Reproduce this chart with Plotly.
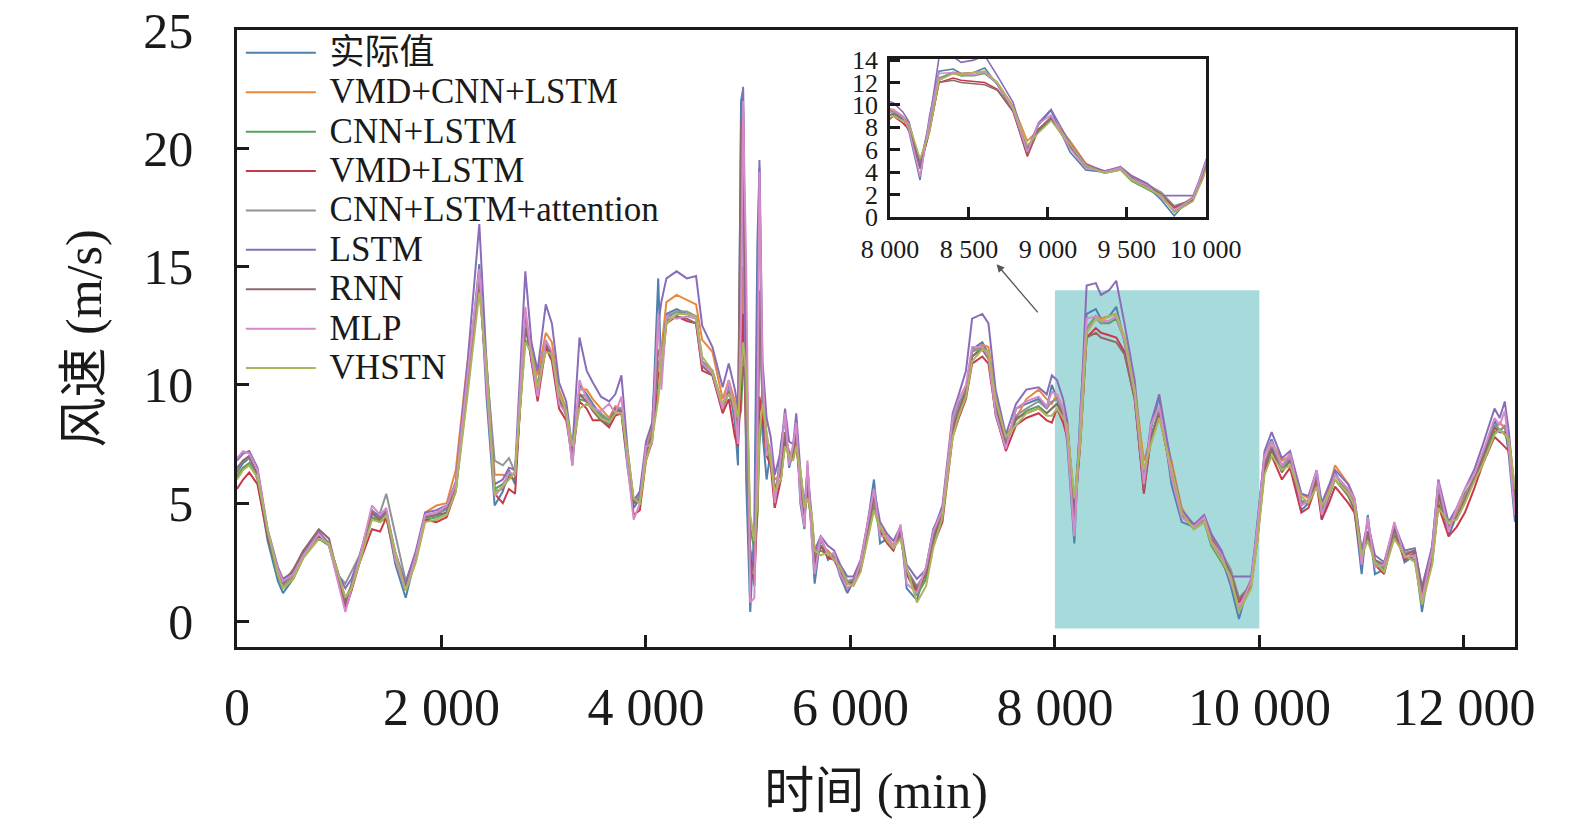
import plotly.graph_objects as go

# time axis (min) and wind speed (m/s)
minutes = [
    0, 60, 120, 200, 300, 400, 450, 550, 650, 800,
    900, 1000, 1060, 1120, 1200, 1320, 1400, 1460, 1550, 1650,
    1750, 1840, 1950, 2050, 2140, 2250, 2370, 2440, 2520, 2600,
    2660, 2720, 2820, 2880, 2940, 3020, 3080, 3150, 3220, 3280,
    3350, 3420, 3480, 3560, 3640, 3700, 3760, 3820, 3880, 3940,
    4000, 4060, 4120, 4150, 4200, 4300, 4400, 4490, 4550, 4650,
    4750, 4810, 4870, 4900, 4930, 4950, 4980, 5020, 5060, 5090,
    5110, 5140, 5180, 5220, 5260, 5320, 5360, 5400, 5440, 5470,
    5510, 5550, 5580, 5620, 5650, 5710, 5780, 5840, 5900, 5970,
    6030, 6100, 6160, 6230, 6290, 6360, 6420, 6490, 6550, 6650,
    6740, 6810, 6900, 7000, 7060, 7130, 7190, 7290, 7350, 7420,
    7520, 7620, 7720, 7840, 7920, 7970, 8020, 8080, 8120, 8190,
    8250, 8310, 8400, 8450, 8530, 8600, 8680, 8780, 8870, 8940,
    9020, 9140, 9240, 9360, 9460, 9530, 9630, 9720, 9800, 9870,
    9920, 9980, 10050, 10120, 10220, 10300, 10410, 10480, 10560, 10610,
    10680, 10740, 10870, 10930, 11000, 11060, 11130, 11220, 11320, 11420,
    11520, 11590, 11690, 11750, 11850, 11930, 12010, 12100, 12180, 12300,
    12350, 12400, 12440, 12500,
]

actual = [
    6.3, 6.7, 6.9, 6.0, 3.4, 1.7, 1.2, 1.8, 2.8, 3.7,
    3.2, 1.5, 0.6, 1.6, 2.7, 4.6, 4.2, 4.5, 2.4, 1.0,
    2.8, 4.4, 4.5, 4.8, 5.8, 10.0, 15.1, 9.5, 4.9, 5.5,
    6.4, 5.8, 12.8, 11.0, 9.8, 11.8, 11.2, 9.4, 8.9, 6.6,
    10.0, 9.6, 9.2, 8.7, 8.3, 9.0, 8.8, 6.5, 4.8, 5.2,
    7.2, 8.0, 14.5, 10.4, 13.0, 13.2, 13.0, 12.9, 10.8, 10.6,
    9.0, 10.0, 8.4, 6.6, 22.0, 22.5, 6.0, 0.4, 4.0, 16.0,
    19.2, 8.0, 6.0, 7.2, 4.8, 7.5, 8.6, 6.5, 7.2, 8.5,
    5.0, 3.9, 6.6, 3.5, 1.6, 3.6, 2.6, 2.8, 1.9, 1.2,
    1.7, 2.5, 3.9, 6.0, 3.3, 3.5, 3.0, 4.0, 1.4, 0.9,
    2.3, 3.9, 4.7, 8.5, 9.2, 9.8, 11.5, 11.8, 11.3, 8.7,
    7.3, 9.0, 9.2, 9.4, 9.0, 10.0, 9.4, 8.8, 7.6, 3.3,
    9.0, 13.0, 13.2, 12.8, 12.9, 13.3, 11.8, 9.5, 5.5, 8.2,
    9.5, 5.8, 4.2, 4.0, 4.3, 3.3, 2.7, 1.5, 0.1, 1.2,
    1.6, 4.2, 7.0, 7.7, 6.5, 7.1, 4.7, 5.0, 6.2, 4.3,
    5.3, 6.3, 5.3, 4.7, 2.0, 4.5, 2.0, 2.2, 4.1, 2.5,
    2.8, 0.4, 3.2, 5.8, 3.6, 4.5, 5.4, 6.0, 6.8, 8.5,
    8.0, 8.3, 7.0, 4.2,
]

vmd_cnn_lstm = [
    6.2, 6.5, 6.6, 6.1, 3.8, 2.0, 1.5, 1.9, 2.8, 3.6,
    3.3, 1.8, 1.0, 1.5, 2.6, 4.4, 4.3, 4.5, 2.8, 1.4,
    2.8, 4.6, 4.9, 5.0, 6.4, 10.8, 14.3, 11.0, 6.2, 6.2,
    6.1, 6.3, 12.5, 11.6, 10.4, 12.2, 11.8, 9.8, 9.0, 7.2,
    9.8, 9.8, 9.4, 9.0, 8.6, 9.1, 9.0, 7.0, 5.0, 5.3,
    7.3, 8.2, 10.6, 11.5, 13.5, 13.8, 13.6, 13.4, 11.9, 11.4,
    9.4, 10.2, 9.3, 8.7, 9.5, 15.0, 9.0, 2.5, 2.2, 4.6,
    9.0, 9.2, 7.6, 6.8, 6.0, 6.2, 7.8, 7.2, 7.0, 7.8,
    6.2, 4.8, 5.8, 4.4, 3.0, 3.2, 3.0, 2.7, 2.3, 1.7,
    1.7, 2.3, 3.6, 5.0, 4.0, 3.6, 3.2, 3.7, 2.2, 1.2,
    1.8, 3.5, 4.8, 8.2, 9.0, 9.9, 11.4, 11.7, 11.6, 9.6,
    7.8, 8.6, 9.4, 9.8, 9.4, 9.2, 9.6, 9.0, 8.4, 4.8,
    7.8, 12.2, 12.9, 12.8, 12.9, 13.0, 12.0, 9.9, 6.8, 7.8,
    8.9, 6.8, 4.8, 4.0, 4.4, 3.6, 2.9, 2.1, 0.9, 1.2,
    1.8, 3.6, 6.6, 7.6, 6.8, 7.0, 5.4, 5.2, 6.0, 5.0,
    5.6, 6.6, 5.8, 5.2, 3.0, 3.8, 2.6, 2.3, 3.8, 2.9,
    2.8, 1.0, 2.8, 5.2, 4.2, 4.6, 5.3, 6.1, 7.0, 8.1,
    8.4, 8.2, 7.8, 5.5,
]

cnn_lstm = [
    6.1, 6.5, 6.7, 6.1, 3.6, 1.9, 1.4, 1.8, 2.7, 3.5,
    3.2, 1.7, 0.9, 1.5, 2.5, 4.4, 4.2, 4.4, 2.6, 1.3,
    2.6, 4.3, 4.4, 4.6, 5.6, 9.6, 14.2, 10.4, 5.6, 5.8,
    6.2, 6.2, 11.9, 11.3, 9.8, 11.5, 11.3, 9.5, 8.8, 7.2,
    9.4, 9.3, 9.0, 8.7, 8.5, 8.9, 8.9, 6.9, 5.0, 5.2,
    6.9, 7.8, 9.6, 10.8, 12.8, 13.1, 13.0, 12.9, 11.0, 10.6,
    9.1, 9.8, 9.0, 8.4, 8.9, 10.8, 10.0, 4.0, 3.0, 4.5,
    7.5, 9.0, 7.5, 6.6, 5.6, 6.0, 7.6, 7.0, 6.9, 7.5,
    6.0, 4.5, 5.4, 4.2, 2.8, 3.0, 2.8, 2.6, 2.2, 1.6,
    1.6, 2.2, 3.4, 4.8, 3.8, 3.4, 3.1, 3.6, 2.0, 1.1,
    1.8, 3.4, 4.5, 8.0, 8.8, 9.6, 11.2, 11.6, 11.2, 9.2,
    7.6, 8.5, 8.9, 9.1, 8.8, 9.0, 9.2, 8.8, 8.2, 5.0,
    8.0, 12.4, 12.9, 12.6, 12.6, 12.8, 11.9, 9.6, 6.2, 7.6,
    8.7, 6.3, 4.5, 3.9, 4.2, 3.2, 2.5, 1.8, 0.5, 1.0,
    1.5, 3.6, 6.4, 7.2, 6.4, 6.8, 5.1, 5.0, 5.8, 4.7,
    5.4, 6.2, 5.5, 5.0, 2.8, 3.6, 2.5, 2.2, 3.6, 2.8,
    2.6, 0.8, 2.6, 5.0, 4.0, 4.4, 5.2, 6.0, 6.8, 8.0,
    8.1, 7.9, 7.6, 5.0,
]

vmd_lstm = [
    5.6, 6.0, 6.3, 5.8, 3.6, 2.1, 1.6, 2.1, 3.0, 3.6,
    3.3, 1.6, 0.5, 1.3, 2.5, 3.9, 3.8, 4.4, 2.7, 1.5,
    2.7, 4.3, 4.2, 4.4, 5.5, 9.8, 14.5, 10.2, 5.4, 5.0,
    5.6, 5.4, 12.9, 11.0, 9.3, 11.6, 11.0, 9.0, 8.5, 6.9,
    9.3, 9.0, 8.5, 8.5, 8.2, 8.7, 8.8, 6.8, 4.5, 4.7,
    6.8, 7.6, 10.5, 10.5, 12.6, 12.9, 12.7, 12.6, 10.6, 10.4,
    8.8, 9.4, 7.8, 7.4, 9.8, 13.0, 7.5, 3.0, 1.5, 5.0,
    9.5, 8.6, 7.0, 6.6, 4.8, 6.0, 7.8, 6.8, 6.9, 7.6,
    5.6, 4.4, 5.8, 4.0, 2.4, 3.2, 2.7, 2.6, 2.1, 1.4,
    1.6, 2.3, 3.6, 5.2, 3.8, 3.3, 3.0, 3.8, 2.0, 1.3,
    2.0, 3.2, 4.2, 7.8, 8.6, 9.4, 10.9, 11.2, 10.9, 8.8,
    7.2, 8.3, 8.6, 8.8, 8.5, 8.4, 9.0, 8.4, 7.8, 4.4,
    7.6, 12.0, 12.4, 12.2, 12.1, 12.0, 11.4, 9.4, 5.4, 7.8,
    8.9, 6.2, 4.5, 4.1, 4.4, 3.5, 2.8, 2.0, 0.8, 1.2,
    1.6, 3.4, 6.4, 7.0, 6.0, 6.5, 4.6, 4.8, 5.8, 4.3,
    5.0, 5.7, 5.0, 4.6, 2.6, 3.8, 2.4, 2.0, 3.8, 2.6,
    2.9, 1.2, 2.5, 4.9, 3.6, 4.0, 4.6, 5.6, 6.6, 7.8,
    7.6, 7.4, 7.2, 4.8,
]

cnn_lstm_attention = [
    6.4, 6.8, 6.9, 6.2, 3.8, 2.0, 1.5, 2.0, 2.9, 3.7,
    3.3, 1.9, 1.6, 2.1, 2.8, 4.5, 4.6, 5.4, 3.6, 1.7,
    2.9, 4.5, 4.6, 4.7, 5.7, 10.0, 14.6, 10.8, 6.8, 6.6,
    6.9, 6.3, 12.6, 11.3, 10.0, 11.8, 11.2, 9.6, 8.9, 7.0,
    9.6, 9.5, 9.1, 8.8, 8.5, 9.0, 9.0, 7.1, 5.0, 5.4,
    7.2, 8.0, 11.0, 10.8, 12.9, 13.1, 13.1, 12.9, 11.0, 10.6,
    9.1, 9.9, 9.0, 8.5, 18.0, 20.0, 7.8, 2.2, 2.0, 7.0,
    12.0, 9.5, 7.8, 7.0, 5.6, 6.5, 8.0, 7.0, 7.0, 7.9,
    6.0, 4.6, 6.0, 4.2, 2.8, 3.4, 2.9, 2.8, 2.3, 1.7,
    1.8, 2.4, 3.7, 5.2, 3.9, 3.5, 3.2, 3.8, 2.2, 1.5,
    2.1, 3.6, 4.7, 8.3, 9.1, 9.8, 11.4, 11.6, 11.3, 9.2,
    7.6, 8.7, 9.0, 9.3, 9.0, 9.3, 9.4, 8.9, 8.2, 4.6,
    8.0, 12.4, 12.8, 12.6, 12.7, 12.9, 11.9, 9.7, 6.0, 7.8,
    8.9, 6.4, 4.6, 4.0, 4.3, 3.5, 2.9, 2.2, 1.0, 1.3,
    1.8, 3.8, 6.7, 7.4, 6.5, 6.9, 5.1, 5.1, 6.0, 4.8,
    5.4, 6.2, 5.5, 5.0, 2.8, 3.8, 2.6, 2.3, 3.8, 2.9,
    3.0, 1.5, 3.0, 5.4, 4.0, 4.5, 5.2, 6.1, 7.0, 8.3,
    8.1, 8.2, 7.6, 5.0,
]

lstm = [
    6.8, 7.1, 7.2, 6.5, 3.9, 2.3, 1.8, 2.1, 2.9, 3.8,
    3.3, 1.9, 1.4, 1.8, 2.8, 4.7, 4.4, 4.7, 2.9, 1.6,
    3.0, 4.6, 4.7, 4.9, 5.9, 10.7, 16.8, 11.0, 5.8, 6.0,
    6.5, 6.4, 14.8, 11.8, 10.6, 13.4, 12.6, 10.1, 9.3, 7.3,
    12.0, 10.6, 10.1, 9.5, 9.3, 9.6, 10.4, 7.3, 5.1, 5.5,
    7.6, 8.4, 12.5, 13.5, 14.5, 14.8, 14.5, 14.6, 12.5, 11.6,
    9.9, 10.9, 9.8, 9.0, 12.0, 22.6, 8.0, 3.0, 2.4, 12.0,
    19.5, 11.0, 8.6, 7.8, 6.2, 7.2, 9.0, 7.6, 7.5, 8.8,
    6.4, 4.9, 6.4, 4.5, 3.0, 3.6, 3.2, 3.0, 2.4, 1.9,
    1.9, 2.6, 4.0, 5.6, 4.2, 3.7, 3.4, 4.0, 2.4, 1.8,
    2.2, 3.8, 4.9, 8.8, 9.6, 10.6, 12.8, 13.0, 12.6, 9.8,
    7.9, 9.2, 9.8, 9.9, 9.6, 10.4, 10.2, 9.4, 8.5, 4.6,
    8.6, 14.2, 14.3, 13.8, 14.0, 14.4, 12.6, 10.2, 6.0, 8.4,
    9.6, 6.6, 4.7, 4.1, 4.5, 3.7, 3.0, 1.9, 1.9, 1.9,
    1.9, 4.0, 7.2, 8.0, 6.9, 7.2, 5.4, 5.3, 6.4, 5.0,
    5.8, 6.4, 5.8, 5.2, 3.0, 4.2, 2.8, 2.5, 4.1, 3.0,
    3.1, 1.4, 3.2, 6.0, 4.2, 4.8, 5.6, 6.4, 7.4, 9.0,
    8.6, 9.3, 8.0, 5.2,
]

rnn = [
    6.5, 6.8, 7.0, 6.2, 3.7, 2.1, 1.6, 2.2, 3.0, 3.9,
    3.5, 1.7, 0.8, 1.5, 2.6, 4.6, 4.3, 4.6, 2.7, 1.4,
    2.8, 4.4, 4.5, 4.6, 5.7, 9.9, 14.4, 10.5, 5.5, 5.6,
    6.1, 6.0, 12.4, 11.2, 9.9, 11.7, 11.3, 9.4, 8.7, 7.0,
    9.6, 9.3, 8.9, 8.5, 8.3, 9.0, 8.9, 7.0, 5.0, 5.1,
    7.0, 7.9, 11.5, 11.0, 12.7, 12.9, 12.8, 12.6, 10.8, 10.4,
    9.0, 9.7, 8.8, 8.2, 21.0, 21.6, 12.0, 2.0, 2.5, 6.0,
    14.0, 10.0, 7.8, 7.1, 5.5, 6.4, 8.0, 7.0, 7.0, 7.9,
    6.0, 4.5, 6.0, 4.1, 2.6, 3.2, 2.8, 2.7, 2.2, 1.6,
    1.7, 2.4, 3.7, 5.3, 3.9, 3.4, 3.1, 3.8, 2.1, 1.4,
    2.0, 3.5, 4.6, 8.1, 8.9, 9.7, 11.2, 11.5, 11.1, 9.0,
    7.5, 8.6, 8.8, 9.0, 8.8, 9.0, 9.2, 8.7, 8.1, 4.3,
    7.8, 12.0, 12.2, 12.0, 11.9, 11.8, 11.3, 9.4, 5.6, 7.8,
    8.8, 6.3, 4.5, 4.0, 4.4, 3.5, 2.8, 2.0, 0.9, 1.3,
    1.7, 3.7, 6.6, 7.3, 6.3, 6.8, 5.0, 5.0, 6.0, 4.6,
    5.3, 6.0, 5.3, 4.8, 2.7, 3.8, 2.6, 2.4, 3.9, 2.8,
    3.0, 1.3, 2.8, 5.4, 3.9, 4.4, 5.1, 6.0, 6.9, 8.2,
    8.0, 8.0, 7.5, 4.9,
]

mlp = [
    6.9, 7.2, 7.1, 6.4, 3.8, 2.2, 1.7, 2.0, 2.8, 3.7,
    3.2, 1.5, 0.4, 1.4, 2.7, 4.9, 4.5, 4.8, 2.6, 1.3,
    2.8, 4.5, 4.6, 4.9, 5.8, 10.2, 14.9, 10.0, 5.3, 5.7,
    6.3, 6.2, 13.3, 11.2, 9.5, 11.9, 11.4, 9.2, 8.8, 6.6,
    10.2, 9.4, 9.0, 8.9, 9.2, 8.8, 9.5, 6.6, 4.3, 5.0,
    7.4, 7.5, 13.0, 9.8, 12.9, 12.8, 12.9, 12.8, 10.9, 10.5,
    9.0, 10.2, 8.8, 7.5, 13.0, 22.0, 15.0, 0.8, 1.0, 8.0,
    19.0, 10.5, 7.0, 7.4, 5.0, 7.0, 8.8, 6.6, 7.5, 8.4,
    5.2, 4.0, 6.8, 3.6, 2.0, 3.6, 2.8, 2.9, 2.0, 1.4,
    1.6, 2.5, 4.0, 5.6, 3.6, 3.6, 3.1, 4.1, 1.6, 1.2,
    2.3, 3.8, 4.7, 8.6, 9.4, 10.0, 11.6, 11.6, 11.2, 8.8,
    7.3, 9.0, 9.3, 9.5, 9.1, 9.7, 9.6, 9.0, 7.8, 3.6,
    8.6, 12.8, 12.9, 12.7, 12.7, 12.9, 11.9, 9.6, 5.8, 8.3,
    9.1, 6.1, 4.4, 4.0, 4.4, 3.4, 2.8, 1.7, 0.6, 1.2,
    1.7, 4.0, 7.0, 7.6, 6.6, 7.1, 4.9, 5.1, 6.4, 4.5,
    5.4, 6.2, 5.6, 5.2, 2.4, 4.4, 2.3, 2.4, 4.2, 2.7,
    2.8, 0.9, 3.0, 5.9, 3.8, 4.8, 5.6, 6.2, 7.1, 8.6,
    8.3, 8.9, 7.3, 4.5,
]

vhstn = [
    6.0, 6.4, 6.6, 6.1, 3.9, 2.0, 1.4, 1.8, 2.7, 3.5,
    3.3, 1.8, 1.0, 1.4, 2.5, 4.3, 4.2, 4.5, 2.9, 1.3,
    2.5, 4.2, 4.3, 4.5, 5.5, 9.4, 13.9, 10.9, 5.4, 5.7,
    6.0, 6.3, 11.8, 11.4, 9.9, 11.4, 11.3, 9.6, 8.9, 7.4,
    9.0, 9.2, 9.0, 8.6, 8.4, 8.8, 8.8, 7.2, 5.2, 5.0,
    6.8, 7.7, 9.4, 11.0, 12.6, 13.0, 13.0, 12.9, 11.2, 10.6,
    9.2, 9.6, 9.2, 8.6, 10.5, 11.8, 10.5, 4.5, 3.4, 5.0,
    8.0, 9.2, 8.0, 6.8, 5.5, 6.0, 7.4, 7.0, 6.8, 7.4,
    6.4, 4.8, 5.2, 4.6, 3.0, 2.8, 2.9, 2.6, 2.3, 1.6,
    1.5, 2.1, 3.3, 4.7, 4.0, 3.4, 3.1, 3.5, 2.3, 0.8,
    1.5, 3.1, 4.4, 7.8, 8.7, 9.5, 11.0, 11.5, 11.4, 9.4,
    7.8, 8.3, 8.8, 9.0, 8.7, 8.7, 9.0, 8.6, 8.3, 5.2,
    7.6, 12.2, 12.8, 12.7, 12.9, 13.0, 12.0, 9.8, 6.4, 7.5,
    8.6, 6.5, 4.6, 3.9, 4.2, 3.3, 2.6, 1.9, 0.4, 1.0,
    1.4, 3.4, 6.2, 7.0, 6.4, 6.6, 5.3, 5.0, 5.7, 4.9,
    5.4, 6.0, 5.4, 4.9, 2.8, 3.4, 2.5, 2.1, 3.5, 2.8,
    2.5, 0.7, 2.4, 4.8, 4.2, 4.3, 5.0, 5.9, 6.6, 7.9,
    8.1, 7.9, 7.7, 5.6,
]

x_ticks = [0, 2000, 4000, 6000, 8000, 10000, 12000]
x_tick_text = ["0", "2 000", "4 000", "6 000", "8 000", "10 000", "12 000"]
y_ticks = [0, 5, 10, 15, 20, 25]
inset_x_ticks = [8000, 8500, 9000, 9500, 10000]
inset_x_text = ["8 000", "8 500", "9 000", "9 500", "10 000"]
inset_y_ticks = [0, 2, 4, 6, 8, 10, 12, 14]

series = [
    ("实际值", actual, "#4F80AE"),
    ("VMD+CNN+LSTM", vmd_cnn_lstm, "#E8873E"),
    ("CNN+LSTM", cnn_lstm, "#58A05C"),
    ("VMD+LSTM", vmd_lstm, "#C73A4B"),
    ("CNN+LSTM+attention", cnn_lstm_attention, "#8F9297"),
    ("LSTM", lstm, "#8A6DB8"),
    ("RNN", rnn, "#8E6A6B"),
    ("MLP", mlp, "#D58ACA"),
    ("VHSTN", vhstn, "#AAB55E"),
]

SERIF = "Liberation Serif, Noto Sans CJK SC, serif"
INK = "#1a1a1a"

fig = go.Figure()

for name, values, color in series:
    # legend rows are spaced by the small legend font, the label itself is drawn larger
    fig.add_trace(go.Scatter(
        x=minutes, y=values, name=f'<span style="font-size:35px">\u00a0{name}</span>',
        mode="lines", line=dict(color=color, width=2),
    ))

# zoomed-in view of 8000-10000 min
for name, values, color in series:
    fig.add_trace(go.Scatter(
        x=minutes, y=values, name=name, mode="lines", showlegend=False,
        line=dict(color=color, width=1.6), xaxis="x2", yaxis="y2",
    ))

axis_common = dict(
    showline=True, linewidth=2.5, linecolor=INK, mirror=True,
    ticks="inside", tickwidth=2.5, tickcolor=INK,
    showgrid=False, zeroline=False, automargin=False,
    ticklabeloverflow="allow",
)

fig.update_layout(
    width=1575, height=823,
    margin=dict(l=229, r=68, t=22, b=184),
    paper_bgcolor="white", plot_bgcolor="white",
    font=dict(family=SERIF, color=INK),
    legend=dict(
        x=0.003, y=1.003, xanchor="left", yanchor="top",
        bgcolor="rgba(0,0,0,0)", font=dict(size=28, family=SERIF),
        itemwidth=70, tracegroupgap=0,
    ),
    xaxis=dict(
        **axis_common, range=[0, 12500], tickvals=x_ticks, ticktext=x_tick_text,
        ticklen=12, tickfont=dict(size=52), ticklabelstandoff=13,
        title=dict(text="时间 (min)", font=dict(size=50), standoff=38),
    ),
    yaxis=dict(
        **axis_common, range=[-1.08, 25], tickvals=y_ticks,
        ticklen=12, tickfont=dict(size=50), ticklabelstandoff=31,
        title=dict(text="风速 (m/s)", font=dict(size=50), standoff=26),
    ),
    xaxis2=dict(
        **axis_common, domain=[0.511, 0.758], anchor="y2", range=[8000, 10000],
        tickvals=inset_x_ticks, ticktext=inset_x_text, ticklen=10,
        tickfont=dict(size=26), ticklabelstandoff=7,
    ),
    yaxis2=dict(
        **axis_common, domain=[0.697, 0.953], anchor="x2", range=[0, 14.1],
        tickvals=inset_y_ticks, ticklen=10,
        tickfont=dict(size=26), ticklabelstandoff=4,
    ),
    shapes=[dict(
        type="rect", xref="x", yref="y", x0=8000, x1=10000, y0=-0.3, y1=14.0,
        fillcolor="#A7DBDB", line=dict(width=0), layer="below",
    )],
    annotations=[dict(
        x=7430, y=15.1, xref="x", yref="y", ax=7845, ay=13.0, axref="x", ayref="y",
        text="", showarrow=True, arrowhead=2, arrowsize=1.2, arrowwidth=1.3,
        arrowcolor="#555555",
    )],
)

fig.write_html("out.html")
